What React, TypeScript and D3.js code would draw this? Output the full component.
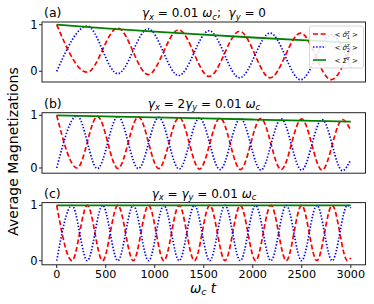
import React from "react";
import * as d3 from "d3";

// panel (a): gamma_x = 0.01, gamma_y = 0
const tA = [0, 311, 622, 933, 1244, 1555, 1866, 2177, 2488, 2799, 3000];
const redA = [1.0, -0.02, 0.93, -0.07, 0.89, -0.11, 0.86, -0.14, 0.82, -0.18, 0.52];
const blueA = [0.0, 0.97, -0.05, 0.91, -0.09, 0.87, -0.14, 0.82, -0.18, 0.78, 0.08];
const tGreenA = [0, 500, 1000, 1500, 2000, 2500, 3000];
const greenA = [1.0, 0.923, 0.851, 0.785, 0.725, 0.669, 0.617];

// panel (b): gamma_x = 2 gamma_y
const tB = [0, 208, 416, 625, 833, 1041, 1249, 1457, 1666, 1874, 2082, 2290, 2498, 2707, 2915, 3000];
const redB = [1.0, 0.0, 0.98, -0.01, 0.97, -0.01, 0.96, -0.02, 0.95, -0.03, 0.94, -0.03, 0.93, -0.04, 0.92, 0.71];
const blueB = [0.0, 0.99, -0.01, 0.98, -0.01, 0.96, -0.02, 0.95, -0.03, 0.94, -0.04, 0.93, -0.04, 0.92, -0.05, 0.16];
const tGreenB = [0, 1000, 2000, 3000];
const greenB = [1.0, 0.96, 0.92, 0.88];

// panel (c): gamma_x = gamma_y
const tC = [0, 156, 312, 468, 624, 781, 937, 1093, 1249, 1405, 1561, 1717, 1873, 2029, 2185, 2342, 2498, 2654, 2810, 2966, 3000];
const redC = [1, 0, 1, 0, 1, 0, 1, 0, 1, 0, 1, 0, 1, 0, 1, 0, 1, 0, 1, 0, 0.05];
const blueC = [0, 1, 0, 1, 0, 1, 0, 1, 0, 1, 0, 1, 0, 1, 0, 1, 0, 1, 0, 1, 0.95];
const tGreenC = [0, 3000];
const greenC = [1.0, 1.0];

const xTicks = [0, 500, 1000, 1500, 2000, 2500, 3000];
const yTicks = [0, 1];

type Seg = { t: string; i?: boolean; sub?: boolean; sup?: boolean };

const titleA: Seg[] = [
  { t: "γ", i: true }, { t: "x", i: true, sub: true }, { t: " = 0.01 " },
  { t: "ω", i: true }, { t: "c", i: true, sub: true }, { t: ";  " },
  { t: "γ", i: true }, { t: "y", i: true, sub: true }, { t: " = 0" },
];
const titleB: Seg[] = [
  { t: "γ", i: true }, { t: "x", i: true, sub: true }, { t: " = 2" },
  { t: "γ", i: true }, { t: "y", i: true, sub: true }, { t: " = 0.01 " },
  { t: "ω", i: true }, { t: "c", i: true, sub: true },
];
const titleC: Seg[] = [
  { t: "γ", i: true }, { t: "x", i: true, sub: true }, { t: " = " },
  { t: "γ", i: true }, { t: "y", i: true, sub: true }, { t: " = 0.01 " },
  { t: "ω", i: true }, { t: "c", i: true, sub: true },
];

const W = 374, H = 304;
const FONT = "DejaVu Sans";
const x = d3.scaleLinear().domain([-150, 3150]).range([42, 365.5]);

const panels = [
  { label: "(a)", title: titleA, top: 22, bottom: 82, dom: [-0.23, 1.058], t: tA, red: redA, blue: blueA, tg: tGreenA, green: greenA, legend: true },
  { label: "(b)", title: titleB, top: 112.7, bottom: 173.2, dom: [-0.099, 1.049], t: tB, red: redB, blue: blueB, tg: tGreenB, green: greenB, legend: false },
  { label: "(c)", title: titleC, top: 202.6, bottom: 264.8, dom: [-0.074, 1.049], t: tC, red: redC, blue: blueC, tg: tGreenC, green: greenC, legend: false },
];

function MathText({ segs, x0, y0, size, anchor }: { segs: Seg[]; x0: number; y0: number; size: number; anchor: string }) {
  let shift = 0;
  return (
    <text x={x0} y={y0} fontFamily={FONT} fontSize={size} textAnchor={anchor} fill="#000">
      {segs.map((s, k) => {
        const target = s.sub ? size * 0.22 : s.sup ? -size * 0.35 : 0;
        const dy = target - shift;
        shift = target;
        return (
          <tspan key={k} dy={dy} fontStyle={s.i ? "italic" : "normal"} fontSize={s.sub || s.sup ? size * 0.7 : size}
            style={{ whiteSpace: "pre" }}>
            {s.t}
          </tspan>
        );
      })}
    </text>
  );
}

function Legend() {
  const x0 = 309.5, y0 = 26, w = 54, h = 42;
  const rows = [
    { stroke: "#ff0000", dash: "5,2.6", name: "1" },
    { stroke: "#0000ff", dash: "1.4,1.8", name: "2" },
    { stroke: "#008000", dash: "", name: "" },
  ];
  return (
    <g>
      <rect x={x0} y={y0} width={w} height={h} rx={2} fill="#fff" fillOpacity={0.85} stroke="#cccccc" strokeWidth={0.8} />
      {rows.map((r, k) => {
        const yy = y0 + 8 + k * 13;
        return (
          <g key={k}>
            <line x1={x0 + 3.5} x2={x0 + 16.5} y1={yy} y2={yy} stroke={r.stroke} strokeWidth={1.6} strokeDasharray={r.dash || undefined} />
            <text x={x0 + 25} y={yy + 2.5} fontFamily={FONT} fontSize={7} fill="#000" style={{ whiteSpace: "pre" }}>
              {"< "}
              <tspan fontStyle="italic">{r.name ? "σ̂" : "Σ̂"}</tspan>
              <tspan dy={-2.5} fontSize={5}>z</tspan>
              {r.name ? <tspan dx={-3} dy={5} fontSize={5}>{r.name}</tspan> : null}
              <tspan dy={r.name ? -2.5 : 2.5}>{" >"}</tspan>
            </text>
          </g>
        );
      })}
    </g>
  );
}

export default function App() {
  return (
    <svg width={W} height={H} style={{ position: "absolute", left: 0, top: 0, background: "#fff" }}>
      {panels.map((p, pi) => {
        const y = d3.scaleLinear().domain(p.dom).range([p.bottom, p.top]);
        const line = d3.line<[number, number]>().x(d => x(d[0])).y(d => y(d[1])).curve(d3.curveMonotoneX);
        const redPts = p.t.map((t, k) => [t, p.red[k]] as [number, number]);
        const bluePts = p.t.map((t, k) => [t, p.blue[k]] as [number, number]);
        const greenPts = p.tg.map((t, k) => [t, p.green[k]] as [number, number]);
        const clipId = `clip${pi}`;
        return (
          <g key={pi}>
            <clipPath id={clipId}>
              <rect x={42} y={p.top} width={323.5} height={p.bottom - p.top} />
            </clipPath>
            <g clipPath={`url(#${clipId})`}>
              <path d={line(redPts) || ""} fill="none" stroke="#ff0000" strokeWidth={1.7} strokeDasharray="5,2.6" />
              <path d={line(bluePts) || ""} fill="none" stroke="#0000ff" strokeWidth={1.7} strokeDasharray="1.4,1.8" />
              <path d={line(greenPts) || ""} fill="none" stroke="#008000" strokeWidth={1.8} />
            </g>
            <rect x={42} y={p.top} width={323.5} height={p.bottom - p.top} fill="none" stroke="#222" strokeWidth={1} />
            {yTicks.map(v => (
              <g key={v}>
                <line x1={39} x2={42} y1={y(v)} y2={y(v)} stroke="#222" strokeWidth={1} />
                <text x={37.5} y={y(v) + 4} fontFamily={FONT} fontSize={11.5} textAnchor="end" fill="#000">{v}</text>
              </g>
            ))}
            <text x={44} y={p.top - 5} fontFamily={FONT} fontSize={12.5} fill="#000">{p.label}</text>
            <MathText segs={p.title} x0={204} y0={p.top - 5} size={12} anchor="middle" />
            {p.legend ? <Legend /> : null}
          </g>
        );
      })}
      {xTicks.map(v => (
        <g key={v}>
          <line x1={x(v)} x2={x(v)} y1={264.8} y2={268} stroke="#222" strokeWidth={1} />
          <text x={x(v)} y={277.5} fontFamily={FONT} fontSize={11.2} textAnchor="middle" fill="#000">{v}</text>
        </g>
      ))}
      <MathText segs={[{ t: "ω", i: true }, { t: "c", i: true, sub: true }, { t: " " }, { t: "t", i: true }]} x0={203} y0={292.5} size={13.5} anchor="middle" />
      <text transform="translate(18,151.5) rotate(-90)" fontFamily={FONT} fontSize={14} textAnchor="middle" fill="#000">
        Average Magnetizations
      </text>
    </svg>
  );
}
